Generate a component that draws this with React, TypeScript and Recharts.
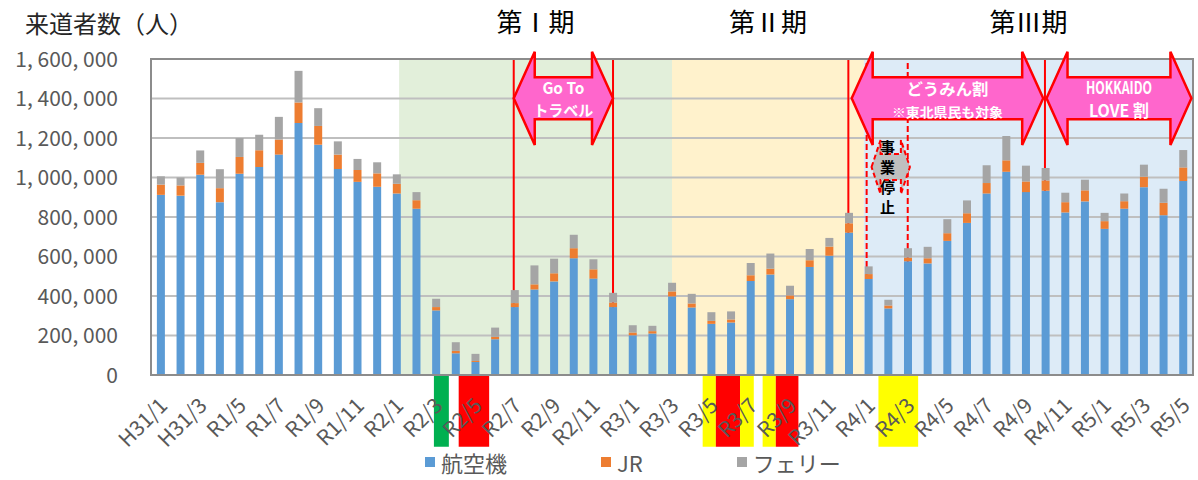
import React from "react";
import {
  BarChart,
  Bar,
  XAxis,
  YAxis,
  CartesianGrid,
  ReferenceArea,
  ReferenceLine,
  Legend,
} from "recharts";

// ─── Data (persons per month) ───────────────────────────────────────────────
const months = [
  "H31/1", "H31/2", "H31/3", "H31/4", "R1/5", "R1/6", "R1/7", "R1/8", "R1/9", "R1/10", "R1/11", "R1/12",
  "R2/1", "R2/2", "R2/3", "R2/4", "R2/5", "R2/6", "R2/7", "R2/8", "R2/9", "R2/10", "R2/11", "R2/12",
  "R3/1", "R3/2", "R3/3", "R3/4", "R3/5", "R3/6", "R3/7", "R3/8", "R3/9", "R3/10", "R3/11", "R3/12",
  "R4/1", "R4/2", "R4/3", "R4/4", "R4/5", "R4/6", "R4/7", "R4/8", "R4/9", "R4/10", "R4/11", "R4/12",
  "R5/1", "R5/2", "R5/3", "R5/4", "R5/5",
];

const air = [
  912000, 908000, 1014000, 875000, 1019000, 1053000, 1116000, 1276000, 1166000, 1043000, 978000, 953000,
  919000, 842000, 327000, 110000, 66000, 181000, 344000, 433000, 474000, 591000, 488000, 344000,
  201000, 210000, 398000, 342000, 259000, 266000, 476000, 509000, 384000, 547000, 604000, 721000,
  486000, 337000, 576000, 565000, 679000, 770000, 919000, 1029000, 926000, 933000, 823000, 879000,
  740000, 842000, 951000, 809000, 982000,
];

const jr = [
  52000, 52000, 60000, 71000, 85000, 85000, 76000, 104000, 95000, 73000, 60000, 68000,
  49000, 43000, 17000, 12000, 5000, 12000, 20000, 26000, 41000, 51000, 47000, 23000,
  14000, 12000, 25000, 20000, 15000, 15000, 29000, 29000, 19000, 34000, 46000, 47000,
  25000, 15000, 18000, 26000, 39000, 49000, 53000, 58000, 54000, 52000, 52000, 56000,
  39000, 38000, 53000, 63000, 69000,
];

const ferry = [
  42000, 40000, 63000, 96000, 96000, 79000, 115000, 160000, 90000, 67000, 56000, 56000,
  48000, 41000, 42000, 44000, 36000, 47000, 66000, 96000, 74000, 68000, 51000, 49000,
  37000, 27000, 44000, 49000, 44000, 41000, 62000, 77000, 49000, 57000, 44000, 53000,
  39000, 29000, 48000, 58000, 71000, 65000, 90000, 123000, 80000, 63000, 48000, 54000,
  42000, 39000, 61000, 71000, 88000,
];

const yTicks = [0, 200000, 400000, 600000, 800000, 1000000, 1200000, 1400000, 1600000];

const series = [
  { key: "air", name: "航空機", color: "#5B9BD5" },
  { key: "jr", name: "JR", color: "#ED7D31" },
  { key: "ferry", name: "フェリー", color: "#A5A5A5" },
];

// slot = month index centre on a 0..53 scale, used to place the annotations
const data = months.map((month, i) => ({
  month,
  slot: i + 0.5,
  air: air[i],
  jr: jr[i],
  ferry: ferry[i],
}));

// ─── Annotations (positions on the 0..53 slot axis) ──────────────────────────
const periods = [
  { from: 12.62, to: 26.5, fill: "#E2EFDA", title: "第Ⅰ期" },
  { from: 26.5, to: 36.26, fill: "#FFF2CC", title: "第Ⅱ期" },
  { from: 36.26, to: 53, fill: "#DDEBF7", title: "第Ⅲ期" },
];

const axisMarks = [
  { from: 14.39, to: 15.15, fill: "#00B050" },
  { from: 15.65, to: 17.2, fill: "#FF0000" },
  { from: 28.06, to: 28.73, fill: "#FFFF00" },
  { from: 28.73, to: 29.96, fill: "#FF0000" },
  { from: 29.96, to: 30.66, fill: "#FFFF00" },
  { from: 31.11, to: 31.78, fill: "#FFFF00" },
  { from: 31.78, to: 32.93, fill: "#FF0000" },
  { from: 37.0, to: 39.02, fill: "#FFFF00" },
];

const solidLines = [18.45, 23.5, 35.47, 45.47];
const dashedLines = [36.4, 38.49];

const campaigns = [
  {
    from: 18.45,
    to: 23.5,
    lines: [
      { text: "Go To", size: 16, dy: -11.5, len: 42 },
      { text: "トラベル", size: 15, dy: 11.5, len: 60 },
    ],
  },
  {
    from: 35.64,
    to: 45.38,
    lines: [
      { text: "どうみん割", size: 16, dy: -10.5, len: 82 },
      { text: "※東北県民も対象", size: 13, dy: 13, len: 111 },
    ],
  },
  {
    from: 45.55,
    to: 52.92,
    lines: [
      { text: "HOKKAIDO", size: 17, dy: -11.5, len: 66 },
      { text: "LOVE 割", size: 17, dy: 11.5, len: 60 },
    ],
  },
];

const FONT = "'Noto Sans CJK JP', 'Noto Sans', sans-serif";
const AXIS_GREY = "#595959";

// ─── Shapes ──────────────────────────────────────────────────────────────────
const arrowPoints = (x: number, y: number, w: number, h: number, head: number, body: number) => {
  const cy = y + h / 2;
  const bt = cy - (h * body) / 2;
  const bb = cy + (h * body) / 2;
  return [
    [x, cy], [x + head, y], [x + head, bt], [x + w - head, bt], [x + w - head, y],
    [x + w, cy], [x + w - head, y + h], [x + w - head, bb], [x + head, bb], [x + head, y + h],
  ]
    .map((p) => p.join(","))
    .join(" ");
};

const pinkArrow = (lines: { text: string; size: number; dy: number; len: number }[]) => (p: any) => (
  <g>
    <polygon
      points={arrowPoints(p.x, p.y, p.width, p.height, 21, 0.45)}
      fill="#FF66CC"
      stroke="#FF0000"
      strokeWidth={2.5}
    />
    {lines.map((l) => (
      <text
        key={l.text}
        x={p.x + p.width / 2}
        y={p.y + p.height / 2 + l.dy}
        textAnchor="middle"
        dominantBaseline="central"
        fill="#FFFFFF"
        fontWeight="bold"
        fontSize={l.size}
        fontFamily={FONT}
        textLength={l.len}
        lengthAdjust="spacingAndGlyphs"
      >
        {l.text}
      </text>
    ))}
  </g>
);

const stopShape = (p: any) => (
  <g>
    <polygon
      points={arrowPoints(p.x, p.y, p.width, p.height, 9, 0.48)}
      fill="#BFBFBF"
      stroke="#FF0000"
      strokeWidth={2}
      strokeDasharray="5 3"
    />
    {["事", "業", "停", "止"].map((c, i) => (
      <text
        key={c}
        x={p.x + 16}
        y={p.y + 7 + i * 20}
        textAnchor="middle"
        dominantBaseline="central"
        fontSize={15}
        fontWeight="bold"
        fontFamily={FONT}
        fill="#000000"
      >
        {c}
      </text>
    ))}
  </g>
);

const periodShape = (fill: string, title: string) => (p: any) => (
  <g>
    <rect x={p.x} y={p.y} width={p.width} height={p.height} fill={fill} />
    <text
      x={p.x + p.width / 2}
      y={p.y - 39}
      textAnchor="middle"
      dominantBaseline="central"
      fontSize={26}
      fontFamily={FONT}
      fill="#000000"
    >
      {title}
    </text>
  </g>
);

// ─── Ticks & legend ──────────────────────────────────────────────────────────
const fmt = (v: number) => v.toLocaleString("en-US").replace(/,/g, ", ");

function YTick({ x, y, payload }: any) {
  return (
    <text x={x} y={y} dy="0.36em" textAnchor="end" fontSize={21} fontFamily={FONT} fill={AXIS_GREY}>
      {fmt(payload.value)}
    </text>
  );
}

function XTick({ x, y, payload }: any) {
  const tx = x + 8;
  const ty = y + 32;
  return (
    <text
      x={tx}
      y={ty}
      transform={`rotate(-45, ${tx}, ${ty})`}
      textAnchor="end"
      fontSize={21}
      fontFamily={FONT}
      fill={AXIS_GREY}
    >
      {payload.value}
    </text>
  );
}

function LegendBox() {
  return (
    <div style={{ display: "flex", paddingLeft: 425, gap: 94, fontFamily: FONT }}>
      {series.map((s) => (
        <div key={s.key} style={{ display: "flex", alignItems: "center" }}>
          <span style={{ width: 10, height: 10, background: s.color, marginRight: 6 }} />
          <span style={{ fontSize: 22, color: AXIS_GREY, lineHeight: "30px" }}>{s.name}</span>
        </div>
      ))}
    </div>
  );
}

// ─── Chart ───────────────────────────────────────────────────────────────────
export default function App() {
  return (
    <div style={{ position: "absolute", left: 0, top: 0, width: 1198, height: 480, background: "#fff" }}>
      <div
        style={{
          position: "absolute",
          left: 25,
          top: 7,
          fontSize: 24,
          lineHeight: "32px",
          fontFamily: FONT,
          color: "#262626",
          zIndex: 2,
        }}
      >
        来道者数（人）
      </div>
      <BarChart
        width={1198}
        height={480}
        data={data}
        margin={{ top: 59, right: 5, bottom: 30, left: 0 }}
        barCategoryGap="30%"
      >
        {periods.map((b) => (
          <ReferenceArea
            key={b.title}
            xAxisId="u"
            x1={b.from}
            x2={b.to}
            ifOverflow="visible"
            zIndex={-150}
            shape={periodShape(b.fill, b.title)}
          />
        ))}
        {axisMarks.map((m, i) => (
          <ReferenceArea
            key={i}
            xAxisId="u"
            x1={m.from}
            x2={m.to}
            y1={-363000}
            y2={0}
            ifOverflow="visible"
            zIndex={-150}
            fill={m.fill}
            fillOpacity={1}
            stroke="none"
          />
        ))}
        <CartesianGrid vertical={false} stroke="#BFBFBF" strokeWidth={2} />
        {solidLines.map((v) => (
          <ReferenceLine key={v} xAxisId="u" x={v} stroke="#FF0000" strokeWidth={2} zIndex={250} />
        ))}
        {dashedLines.map((v) => (
          <ReferenceLine
            key={v}
            xAxisId="u"
            x={v}
            stroke="#FF0000"
            strokeWidth={2}
            strokeDasharray="6 3"
            zIndex={250}
          />
        ))}
        <XAxis
          dataKey="month"
          interval={1}
          tickLine={false}
          tickSize={0}
          tickMargin={0}
          height={75}
          axisLine={{ stroke: "#8C8C8C", strokeWidth: 2 }}
          tick={<XTick />}
        />
        <XAxis xAxisId="u" dataKey="slot" type="number" domain={[0, 53]} allowDataOverflow hide />
        <YAxis
          domain={[0, 1600000]}
          ticks={yTicks}
          width={151}
          tickLine={false}
          tickSize={0}
          tickMargin={33}
          axisLine={{ stroke: "#8C8C8C", strokeWidth: 2 }}
          tick={<YTick />}
        />
        {series.map((s) => (
          <Bar
            key={s.key}
            dataKey={s.key}
            stackId="a"
            name={s.name}
            fill={s.color}
            isAnimationActive={false}
          />
        ))}
        <ReferenceArea
          xAxisId="u"
          x1={0}
          x2={53}
          y1={0}
          y2={1600000}
          fill="none"
          stroke="#8C8C8C"
          strokeWidth={2}
          zIndex={450}
        />
        {campaigns.map((c, i) => (
          <ReferenceArea
            key={i}
            xAxisId="u"
            x1={c.from}
            x2={c.to}
            y1={1165000}
            y2={1637000}
            ifOverflow="visible"
            zIndex={1500}
            shape={pinkArrow(c.lines)}
          />
        ))}
        <ReferenceArea
          xAxisId="u"
          x1={36.65}
          x2={38.6}
          y1={916000}
          y2={1190000}
          ifOverflow="visible"
          zIndex={1500}
          shape={stopShape}
        />
        <Legend
          verticalAlign="middle"
          align="center"
          content={<LegendBox />}
          wrapperStyle={{ left: 0, top: 447, width: 1198, height: 33 }}
        />
      </BarChart>
    </div>
  );
}
